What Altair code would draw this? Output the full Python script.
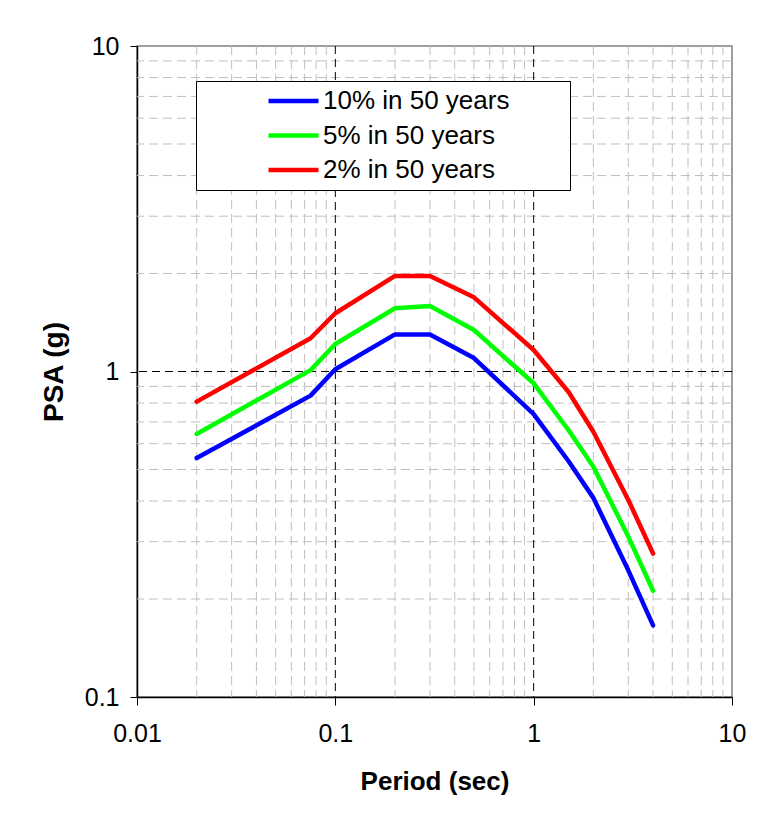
import altair as alt
import pandas as pd

# ---- data ----
periods = [0.02, 0.075, 0.1, 0.2, 0.3, 0.5, 1.0, 1.5, 2.0, 3.0, 4.0]
psa_10 = [0.542, 0.843, 1.016, 1.30, 1.30, 1.10, 0.74, 0.53, 0.409, 0.245, 0.166]
psa_5 = [0.643, 1.01, 1.215, 1.564, 1.589, 1.341, 0.92, 0.66, 0.51, 0.311, 0.212]
psa_2 = [0.808, 1.265, 1.51, 1.966, 1.966, 1.69, 1.164, 0.865, 0.653, 0.403, 0.276]
series_names = ["10% in 50 years", "5% in 50 years", "2% in 50 years"]
series_colors = ["#0000FF", "#00FF00", "#FF0000"]

x_ticks = [0.01, 0.1, 1, 10]
y_ticks = [0.1, 1, 10]
x_major_grid = [0.1, 1]
y_major_grid = [1]
x_minor_grid = [0.02, 0.03, 0.04, 0.05, 0.06, 0.07, 0.08, 0.09,
                0.2, 0.3, 0.4, 0.5, 0.6, 0.7, 0.8, 0.9,
                2, 3, 4, 5, 6, 7, 8, 9]
y_minor_grid = [0.2, 0.3, 0.4, 0.5, 0.6, 0.7, 0.8, 0.9,
                2, 3, 4, 5, 6, 7, 8, 9]

rows = []
for name, vals in zip(series_names, [psa_10, psa_5, psa_2]):
    for p, v in zip(periods, vals):
        rows.append({"Period": p, "PSA": v, "Series": name, "order": series_names.index(name)})
df = pd.DataFrame(rows)

FONT = "Liberation Sans"
xscale = alt.Scale(type="log", domain=[0.01, 10], nice=False)
yscale = alt.Scale(type="log", domain=[0.1, 10], nice=False)

x_axis = alt.Axis(values=x_ticks, format="~g", grid=False, domainColor="#000000",
                  domainWidth=1.5, tickColor="#000000", tickSize=8, labelFontSize=25,
                  labelFont=FONT, labelColor="#000000", labelPadding=16, labelFlush=False,
                  labelOverlap=False,
                  title="Period (sec)", titleFont=FONT, titleFontSize=26, titleFontWeight="bold",
                  titleColor="#000000", titleBaseline="alphabetic", titleY=92)
y_axis = alt.Axis(values=y_ticks, format="~g", grid=False, domainColor="#000000",
                  domainWidth=1.5, tickColor="#000000", tickSize=7, labelFontSize=25,
                  labelFont=FONT, labelColor="#000000", labelPadding=11, labelFlush=False,
                  labelOverlap=False,
                  title="PSA (g)", titleFont=FONT, titleFontSize=28, titleFontWeight="bold",
                  titleColor="#000000", titleBaseline="alphabetic", titleAngle=270,
                  titleAlign="center", titleX=-75, titleY=325.5)

xminor = alt.Chart(pd.DataFrame({"v": x_minor_grid})).mark_rule(
    color="#BFBFBF", strokeWidth=1, strokeDash=[9, 5]).encode(
    x=alt.X("v:Q", scale=xscale, axis=x_axis))
yminor = alt.Chart(pd.DataFrame({"v": y_minor_grid})).mark_rule(
    color="#BFBFBF", strokeWidth=1, strokeDash=[9, 5]).encode(
    y=alt.Y("v:Q", scale=yscale, axis=y_axis))
xmajor = alt.Chart(pd.DataFrame({"v": x_major_grid})).mark_rule(
    color="#000000", strokeWidth=1, strokeDash=[8, 5]).encode(
    x=alt.X("v:Q", scale=xscale, axis=x_axis))
ymajor = alt.Chart(pd.DataFrame({"v": y_major_grid})).mark_rule(
    color="#000000", strokeWidth=1, strokeDash=[8, 5]).encode(
    y=alt.Y("v:Q", scale=yscale, axis=y_axis))

lines = alt.Chart(df).mark_line(strokeWidth=4.5, strokeCap="round", strokeJoin="round").encode(
    x=alt.X("Period:Q", scale=xscale, axis=x_axis),
    y=alt.Y("PSA:Q", scale=yscale, axis=y_axis),
    color=alt.Color("Series:N",
                    scale=alt.Scale(domain=series_names, range=series_colors),
                    legend=alt.Legend(orient="none", legendX=59, legendY=35,
                                      # invisible (white) spacer title widens the box on the right
                                      title="0000000", titleOrient="right",
                                      titleColor="#FFFFFF", titleFontSize=13,
                                      titlePadding=3, titleFont=FONT,
                                      symbolType="stroke", symbolSize=2500,
                                      symbolStrokeWidth=4.5, clipHeight=26,
                                      labelFontSize=26, labelFont=FONT, labelColor="#000000",
                                      labelLimit=600, labelOffset=2, rowPadding=8.5,
                                      padding=7, symbolOffset=63,
                                      strokeColor="#000000", fillColor="#FFFFFF")),
    order="order:Q",
)

chart = alt.layer(xminor, yminor, xmajor, ymajor, lines).properties(
    width=595, height=651,
    autosize=alt.AutoSizeParams(type="none"),
    padding={"left": 129, "top": 38, "right": 25, "bottom": 100},
    background="#FFFFFF",
).configure_view(stroke="#808080", strokeWidth=1.5)

chart.save("out.html", embed_options={"renderer": "svg", "actions": False})
